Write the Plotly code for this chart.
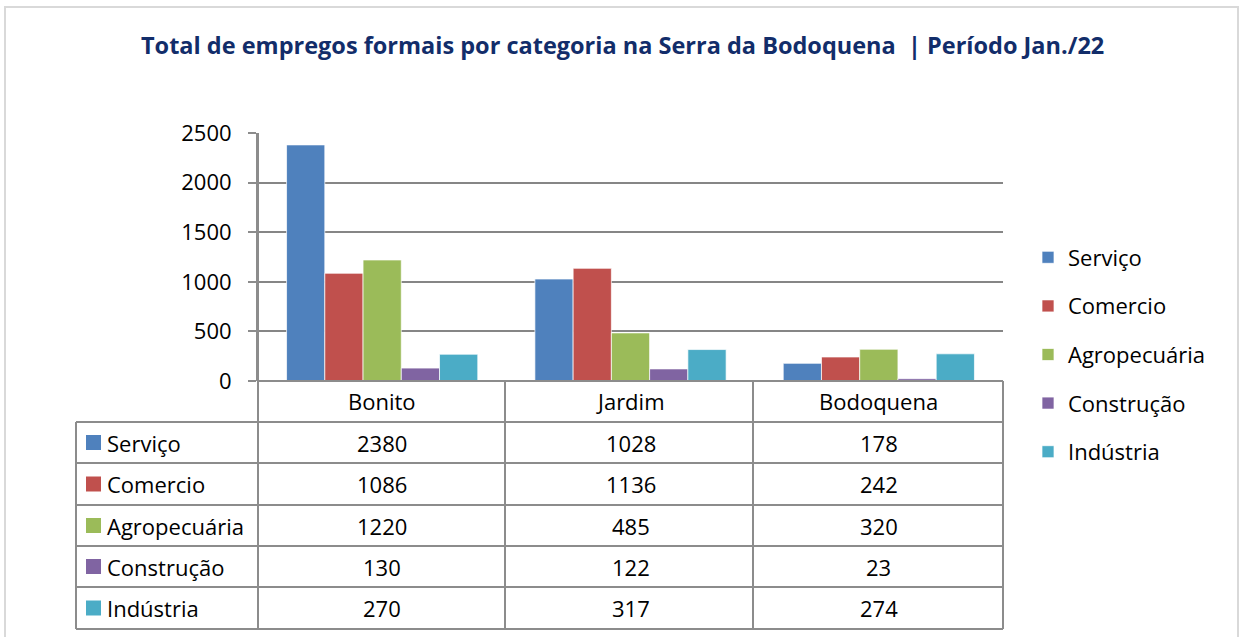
import plotly.graph_objects as go

# ---------------- data ----------------
categories = ["Bonito", "Jardim", "Bodoquena"]
series_names = ["Serviço", "Comercio", "Agropecuária", "Construção", "Indústria"]
servico = [2380, 1028, 178]
comercio = [1086, 1136, 242]
agropecuaria = [1220, 485, 320]
construcao = [130, 122, 23]
industria = [270, 317, 274]
y_ticks = [0, 500, 1000, 1500, 2000, 2500]
title_text = "Total de empregos formais por categoria na Serra da Bodoquena  | Período Jan./22"

series_values = [servico, comercio, agropecuaria, construcao, industria]
colors = ["#4F81BD", "#C0504D", "#9BBB59", "#8064A2", "#4BACC6"]

# ---------------- layout geometry (screen pixels) ----------------
W, H = 1240, 637
L, R = 76, 1003              # table left edge, plot right edge
T, B = 133, 629              # plot top, table bottom
X0 = 258                     # plot-area left (value axis)
Y0 = 381                     # zero line / header row top
ROW_EDGES = [381, 422, 463, 505, 546, 587, 629]
COL_EDGES = [258, 505, 753, 1003]
LINE = "#8C8C8C"
FONT = "Open Sans"
FS = 22


def px(x):
    return (x - L) / (R - L)


def py(y):
    return (B - y) / (B - T)


fig = go.Figure()
for name, vals, col in zip(series_names, series_values, colors):
    fig.add_trace(go.Bar(
        x=categories, y=vals, name=name, legendgroup=name,
        marker=dict(color=col, line=dict(color="rgba(255,255,255,0.7)", width=1)),
    ))

shapes = []
# outer chart frame
shapes.append(dict(type="rect", xref="paper", yref="paper",
                   x0=px(5), x1=px(1238), y0=py(660), y1=py(7),
                   line=dict(color="#D9D9D9", width=2), layer="below"))
# table horizontal lines
for i, yy in enumerate(ROW_EDGES):
    x_start = X0 if i == 0 else L
    shapes.append(dict(type="line", xref="paper", yref="paper",
                       x0=px(x_start), x1=px(R), y0=py(yy), y1=py(yy),
                       line=dict(color=LINE, width=2), layer="above"))
# table vertical lines
shapes.append(dict(type="line", xref="paper", yref="paper",
                   x0=px(L), x1=px(L), y0=py(ROW_EDGES[1]), y1=py(B),
                   line=dict(color=LINE, width=2)))
for i, xx in enumerate(COL_EDGES):
    y_top = T if i == 0 else Y0
    shapes.append(dict(type="line", xref="paper", yref="paper",
                       x0=px(xx), x1=px(xx), y0=py(y_top), y1=py(B),
                       line=dict(color=LINE, width=2)))

annotations = []
# header row: category names
hdr_mid = (ROW_EDGES[0] + ROW_EDGES[1]) / 2
for c in categories:
    annotations.append(dict(x=c, xref="x", y=py(hdr_mid), yref="paper",
                            text=c, showarrow=False, xanchor="center", yanchor="middle",
                            font=dict(family=FONT, size=FS, color="#000000")))
# data rows
for r, (name, vals, col) in enumerate(zip(series_names, series_values, colors)):
    mid = (ROW_EDGES[r + 1] + ROW_EDGES[r + 2]) / 2
    shapes.append(dict(type="rect", xref="paper", yref="paper",
                       x0=px(86), x1=px(101), y0=py(mid + 7.5), y1=py(mid - 7.5),
                       fillcolor=col, line=dict(width=0)))
    annotations.append(dict(x=px(105), xref="paper", y=py(mid), yref="paper",
                            text=name, showarrow=False, xanchor="left", yanchor="middle",
                            font=dict(family=FONT, size=FS, color="#000000")))
    for c, v in zip(categories, vals):
        annotations.append(dict(x=c, xref="x", y=py(mid), yref="paper",
                                text=str(v), showarrow=False, xanchor="center", yanchor="middle",
                                font=dict(family=FONT, size=FS, color="#000000")))

# title
annotations.append(dict(x=px(622), xref="paper", y=py(45), yref="paper",
                        text="<b>" + title_text + "</b>", showarrow=False,
                        xanchor="center", yanchor="middle",
                        font=dict(family=FONT, size=23.5, color="#122D6A")))

fig.update_layout(
    width=W, height=H,
    margin=dict(l=L, r=W - R, t=T, b=H - B, pad=0, autoexpand=False),
    paper_bgcolor="white", plot_bgcolor="white",
    barmode="group", bargap=0.23, bargroupgap=0,
    font=dict(family=FONT, size=FS, color="#000000"),
    xaxis=dict(domain=[px(X0), 1], type="category", range=[-0.5, 2.5],
               showticklabels=False, showgrid=False, zeroline=False, showline=False,
               ticks="", fixedrange=True, automargin=False),
    yaxis=dict(domain=[py(Y0), 1], range=[0, 2500], tickvals=y_ticks,
               showgrid=True, gridcolor="#868686", gridwidth=1.5,
               zeroline=True, zerolinecolor=LINE, zerolinewidth=2,
               showline=True, linecolor=LINE, linewidth=2,
               ticks="outside", ticklen=8, tickcolor=LINE, tickwidth=2,
               ticklabelstandoff=12, automargin=False,
               tickfont=dict(family=FONT, size=FS, color="#000000")),
    showlegend=True,
    legend=dict(x=px(1028), xanchor="left", y=py(354.5), yanchor="middle",
                traceorder="grouped", tracegroupgap=17,
                font=dict(family=FONT, size=FS, color="#000000"),
                bgcolor="rgba(0,0,0,0)"),
    shapes=shapes, annotations=annotations,
)

fig.write_html(
    "out.html",
    config={"displayModeBar": False},
    post_script="document.body.style.margin='0';document.body.style.overflow='hidden';",
)
